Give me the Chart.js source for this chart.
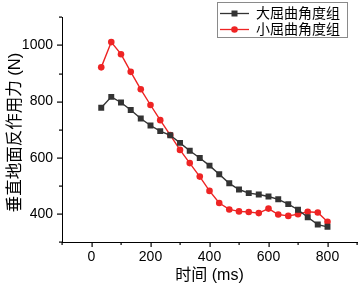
<!doctype html>
<html lang="zh">
<head>
  <meta charset="utf-8">
  <title>垂直地面反作用力</title>
  <script src="https://cdn.jsdelivr.net/npm/chart.js"></script>
  <style>
    html, body { margin: 0; padding: 0; background: #fff; }
    #wrap { width: 364px; height: 289px; }
  </style>
</head>
<body>
  <div id="wrap"><canvas id="forceChart" width="364" height="289"></canvas></div>
  <script>
    // data
    const times = [33, 67, 100, 133, 167, 200, 233, 267, 300, 333, 367, 400,
                   433, 467, 500, 533, 567, 600, 633, 667, 700, 733, 767, 800];
    const largeAngle = [778, 817, 797, 770, 740, 715, 695, 680, 653, 625, 599, 572,
                        541, 509, 487, 474, 469, 462, 452, 435, 415, 388, 362, 354];
    const smallAngle = [922, 1012, 969, 906, 844, 788, 734, 681, 628, 581, 533, 482,
                        439, 416, 409, 407, 403, 419, 398, 393, 399, 408, 405, 372];
    const seriesNames = ['大屈曲角度组', '小屈曲角度组'];
    const xTickLabels = [0, 200, 400, 600, 800];
    const yTickLabels = [400, 600, 800, 1000];
    const yTitle = '垂直地面反作用力 (N)';

    const FONT = "'Liberation Sans', 'Noto Sans CJK SC', sans-serif";
    const BLACK = '#333333';
    const RED = '#ee2424';

    // tick marks (long major, short minor), y title and boxed legend
    const extras = {
      id: 'extras',
      afterDraw(chart) {
        const ctx = chart.ctx;
        const xs = chart.scales.x, ys = chart.scales.y;
        const area = chart.chartArea;
        ctx.save();
        ctx.fillStyle = '#000';
        for (let v = -100; v <= 900; v += 100) {
          const px = Math.round(xs.getPixelForValue(v));
          const len = xTickLabels.includes(v) ? 5 : 3;
          ctx.fillRect(px - 0.5, area.bottom, 1.2, len);
        }
        for (let v = 300; v <= 1100; v += 100) {
          const py = Math.round(ys.getPixelForValue(v));
          const len = yTickLabels.includes(v) ? 5 : 3;
          ctx.fillRect(area.left - len, py - 0.5, len, 1.2);
        }

        ctx.translate(15, 132.5);
        ctx.rotate(-Math.PI / 2);
        ctx.font = '16.5px ' + FONT;
        ctx.textAlign = 'center';
        ctx.textBaseline = 'middle';
        ctx.fillText(yTitle, 0, 0);
        ctx.restore();

        ctx.save();
        ctx.strokeStyle = '#8a8a8a';
        ctx.lineWidth = 1;
        ctx.strokeRect(217.5, 2.5, 130, 35);
        chart.data.datasets.forEach((ds, i) => {
          const cy = 13.5 + i * 16;
          ctx.strokeStyle = ds.borderColor;
          ctx.lineWidth = 1.3;
          ctx.beginPath();
          ctx.moveTo(220, cy);
          ctx.lineTo(249, cy);
          ctx.stroke();
          ctx.fillStyle = ds.backgroundColor;
          if (ds.pointStyle === 'rect') {
            ctx.fillRect(231.5, cy - 3, 6, 6);
          } else {
            ctx.beginPath();
            ctx.arc(234.5, cy, 3.3, 0, Math.PI * 2);
            ctx.fill();
          }
          ctx.fillStyle = '#000';
          ctx.font = '14px ' + FONT;
          ctx.textBaseline = 'middle';
          ctx.fillText(ds.label, 256, cy + 1);
        });
        ctx.restore();
      }
    };

    const axisGrid = {
      display: false,
      drawTicks: false
    };

    new Chart(document.getElementById('forceChart'), {
      type: 'line',
      data: {
        datasets: [
          {
            label: seriesNames[0],
            data: times.map((t, i) => ({ x: t, y: largeAngle[i] })),
            borderColor: BLACK,
            backgroundColor: BLACK,
            borderWidth: 1.4,
            pointStyle: 'rect',
            pointRadius: 4.2,
            pointBorderWidth: 0,
            tension: 0
          },
          {
            label: seriesNames[1],
            data: times.map((t, i) => ({ x: t, y: smallAngle[i] })),
            borderColor: RED,
            backgroundColor: RED,
            borderWidth: 1.4,
            pointStyle: 'circle',
            pointRadius: 3.3,
            pointBorderWidth: 0,
            tension: 0
          }
        ]
      },
      options: {
        responsive: false,
        animation: false,
        layout: { padding: { top: 3, right: 5, left: 0, bottom: 0 } },
        plugins: {
          legend: { display: false },
          tooltip: { enabled: false }
        },
        scales: {
          x: {
            type: 'linear',
            min: -100,
            max: 900,
            afterFit(scale) { scale.height = 47; },
            grid: axisGrid,
            border: { display: true, color: '#000', width: 1 },
            ticks: {
              stepSize: 100,
              autoSkip: false,
              maxRotation: 0,
              padding: 7,
              color: '#000',
              font: { family: FONT, size: 14 },
              callback: v => xTickLabels.includes(v) ? String(v) : ''
            },
            title: {
              display: true,
              text: '时间 (ms)',
              color: '#000',
              font: { family: FONT, size: 16 },
              padding: { top: 0, bottom: 4 }
            }
          },
          y: {
            type: 'linear',
            min: 300,
            max: 1100,
            afterFit(scale) { scale.width = 62; },
            grid: axisGrid,
            border: { display: true, color: '#000', width: 1 },
            ticks: {
              stepSize: 100,
              autoSkip: false,
              padding: 9,
              color: '#000',
              font: { family: FONT, size: 14 },
              callback: v => yTickLabels.includes(v) ? String(v) : ''
            }
          }
        }
      },
      plugins: [extras]
    });
  </script>
</body>
</html>
